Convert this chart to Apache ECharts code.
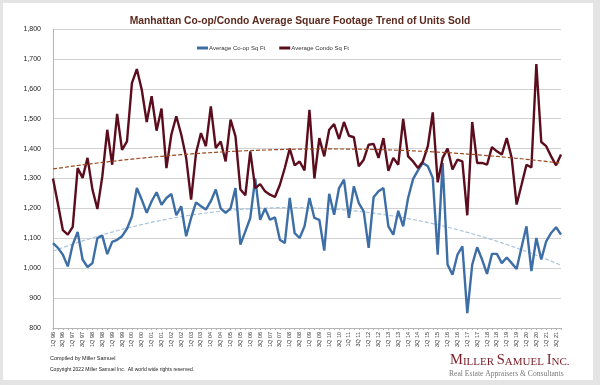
<!DOCTYPE html>
<html><head><meta charset="utf-8">
<script src="https://cdn.jsdelivr.net/npm/echarts@6/dist/echarts.min.js"></script>
<style>html,body{margin:0;padding:0;background:#e4e4e4;}#c{width:600px;height:385px;}</style>
</head><body><div id="c"></div>
<script>
const startYear = 1996;
const endYear = 2021;
const quarterNames = ['1Q', '2Q', '3Q', '4Q'];
const coopName = 'Average Co-op Sq Ft';
const condoName = 'Average Condo Sq Ft';
const coop = [1084,1068,1045,1006,1079,1121,1029,1004,1017,1101,1109,1047,1088,1095,1107,1132,
 1173,1268,1229,1185,1224,1254,1212,1235,1248,1177,1207,1107,1168,1220,1207,1196,
 1224,1263,1200,1185,1200,1268,1079,1123,1168,1300,1162,1200,1162,1170,1095,1084,
 1235,1117,1101,1140,1235,1168,1162,1059,1249,1179,1268,1296,1168,1274,1218,1190,
 1068,1237,1257,1268,1140,1112,1192,1140,1235,1298,1327,1352,1341,1302,1045,1352,
 1012,978,1045,1073,850,1012,1070,1029,981,1048,1048,1017,1036,1017,997,1070,
 1140,990,1101,1029,1090,1118,1137,1112];
const condo = [1300,1215,1127,1112,1138,1335,1302,1369,1263,1198,1307,1463,1346,1516,1396,1424,
 1619,1666,1597,1489,1575,1460,1534,1335,1447,1508,1447,1369,1229,1385,1452,1408,
 1541,1402,1424,1357,1497,1441,1263,1244,1391,1268,1281,1257,1246,1238,1279,1335,
 1400,1344,1357,1327,1530,1300,1435,1374,1463,1482,1432,1489,1443,1438,1341,1363,
 1413,1416,1369,1435,1326,1369,1346,1499,1374,1357,1335,1357,1408,1521,1287,1369,
 1400,1330,1363,1357,1177,1489,1352,1352,1346,1405,1391,1380,1435,1369,1213,1279,
 1346,1337,1683,1422,1408,1374,1344,1380];
const yMin = 800, yMax = 1800, yStep = 100;

const categories = [];
for (let y = startYear; y <= endYear; y++) {
  for (const q of quarterNames) categories.push(q + ' ' + String(y).slice(2));
}

// Excel-style 2nd-order polynomial trendline (least squares on the data)
function polyTrend(vals) {
  const n = vals.length;
  let s = [0,0,0,0,0], t = [0,0,0];
  for (let i = 0; i < n; i++) {
    const x = i + 1, y = vals[i];
    for (let k = 0; k < 5; k++) s[k] += Math.pow(x, k);
    for (let k = 0; k < 3; k++) t[k] += y * Math.pow(x, k);
  }
  const A = [[s[0],s[1],s[2],t[0]],[s[1],s[2],s[3],t[1]],[s[2],s[3],s[4],t[2]]];
  for (let c = 0; c < 3; c++) {
    for (let r = c + 1; r < 3; r++) {
      const f = A[r][c] / A[c][c];
      for (let k = c; k < 4; k++) A[r][k] -= f * A[c][k];
    }
  }
  const b = [0,0,0];
  for (let r = 2; r >= 0; r--) {
    let v = A[r][3];
    for (let k = r + 1; k < 3; k++) v -= A[r][k] * b[k];
    b[r] = v / A[r][r];
  }
  return vals.map((_, i) => { const x = i + 1; return b[0] + b[1]*x + b[2]*x*x; });
}

const chart = echarts.init(document.getElementById('c'));
chart.setOption({
  animation: false,
  backgroundColor: 'transparent',
  textStyle: { fontFamily: 'Liberation Sans, Arial, sans-serif' },
  title: {
    text: 'Manhattan Co-op/Condo Average Square Footage Trend of Units Sold',
    left: 'center', top: 11,
    textStyle: { fontSize: 10.3, fontWeight: 'bold', color: '#5c2a1e', fontFamily: 'Liberation Sans, Arial, sans-serif' }
  },
  legend: {
    data: [coopName, condoName],
    left: 192, top: 40,
    icon: 'rect', itemWidth: 11, itemHeight: 3, itemGap: 14,
    textStyle: { fontSize: 6, color: '#333', padding: [0,0,0,-4] }
  },
  grid: { left: 53, right: 39, top: 29, bottom: 57 },
  xAxis: {
    type: 'category', data: categories, boundaryGap: false,
    axisLine: { lineStyle: { color: '#b5b5b5', width: 1 } },
    axisTick: { show: true, interval: 0, length: 2, lineStyle: { color: '#b5b5b5' } },
    axisLabel: { interval: 1, rotate: 90, fontSize: 5.5, color: '#333', margin: 4 },
    splitLine: { show: false }
  },
  yAxis: {
    type: 'value', min: yMin, max: yMax, interval: yStep,
    axisLine: { show: true, lineStyle: { color: '#b5b5b5' } },
    axisTick: { show: false },
    axisLabel: { fontSize: 7, color: '#222', margin: 12, formatter: v => v.toLocaleString('en-US') },
    splitLine: { lineStyle: { color: '#d2d2d2', width: 1 } }
  },
  series: [
    { name: coopName, type: 'line', data: coop, showSymbol: false, z: 3,
      lineStyle: { color: '#3d6ea6', width: 2.4 }, itemStyle: { color: '#3d6ea6' } },
    { name: condoName, type: 'line', data: condo, showSymbol: false, z: 4,
      lineStyle: { color: '#5c0d1d', width: 2.4 }, itemStyle: { color: '#5c0d1d' } },
    { name: 'Co-op trend', type: 'line', data: polyTrend(coop), showSymbol: false, z: 2,
      lineStyle: { color: '#a9c4de', width: 1.2, type: [4, 2] } },
    { name: 'Condo trend', type: 'line', data: polyTrend(condo), showSymbol: false, z: 5,
      lineStyle: { color: '#9b4a22', width: 1.2, type: [4, 2] } }
  ],
  graphic: [
    { type: 'rect', shape: { x: 3, y: 3, width: 590, height: 377 }, style: { fill: '#ffffff' }, z: -10, silent: true },
    { type: 'text', left: 50, top: 355, style: { text: 'Compiled by Miller Samuel', fontSize: 5.5, fill: '#222', fontFamily: 'Liberation Sans, Arial, sans-serif' } },
    { type: 'text', left: 50, top: 367, style: { text: 'Copyright 2022 Miller Samuel Inc.  All world wide rights reserved.', fontSize: 5, fill: '#222', fontFamily: 'Liberation Sans, Arial, sans-serif' } },
    { type: 'text', left: 450, top: 353, style: {
        text: '{a|M}{b|ILLER }{a|S}{b|AMUEL }{a|I}{b|NC.}',
        rich: {
          a: { fontSize: 14.5, fill: '#7a1c26', fontFamily: 'Liberation Serif, Times New Roman, serif', verticalAlign: 'bottom' },
          b: { fontSize: 11, fill: '#7a1c26', fontFamily: 'Liberation Serif, Times New Roman, serif', verticalAlign: 'bottom' }
        } } },
    { type: 'text', left: 449, top: 370, style: { text: 'Real Estate Appraisers & Consultants', fontSize: 7.6, fill: '#7a7a7a', fontFamily: 'Liberation Serif, Times New Roman, serif' } }
  ]
});
</script></body></html>
